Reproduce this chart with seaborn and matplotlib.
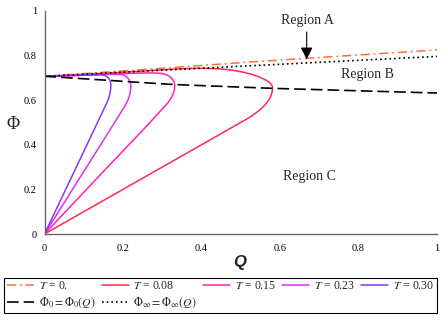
import numpy as np
import pandas as pd
import matplotlib
matplotlib.use("Agg")
import matplotlib.pyplot as plt
import seaborn as sns

sns.set_theme(style="white")
plt.rcParams['font.family'] = ['Liberation Serif', 'DejaVu Serif']
plt.rcParams['mathtext.fontset'] = 'stix'

# ---- data ----
q_t0 = [0.0, 0.25, 0.5, 0.75, 1.0]
phi_t0 = [0.707, 0.737, 0.768, 0.797, 0.825]

q_t08 = [0.0, 0.25, 0.50, 0.5198, 0.5368, 0.5511, 0.5626, 0.5713, 0.5772, 0.5804, 0.581,
         0.580, 0.575, 0.567, 0.557, 0.544, 0.528, 0.51, 0.49, 0.47, 0.447, 0.42,
         0.40, 0.37, 0.33, 0.29, 0.25, 0.20, 0.15, 0.10, 0.05, 0.0]
phi_t08 = [0.0, 0.25, 0.50, 0.52, 0.54, 0.56, 0.58, 0.60, 0.62, 0.64, 0.653,
           0.665, 0.676, 0.687, 0.696, 0.706, 0.716, 0.724, 0.731, 0.736, 0.740, 0.742,
           0.743, 0.742, 0.739, 0.735, 0.730, 0.725, 0.720, 0.716, 0.711, 0.707]

q_t15 = [0.0, 0.15, 0.254, 0.305, 0.3152, 0.3230, 0.3283, 0.3311, 0.332,
         0.3306, 0.3264, 0.3197, 0.311, 0.301, 0.29, 0.27, 0.25, 0.20, 0.15, 0.10,
         0.05, 0.0]
phi_t15 = [0.0, 0.28, 0.472, 0.570, 0.590, 0.610, 0.630, 0.648, 0.665,
           0.6795, 0.693, 0.7046, 0.7135, 0.719, 0.721, 0.722, 0.722, 0.719, 0.716, 0.713,
           0.710, 0.707]

q_t23 = [0.0, 0.10, 0.152, 0.1964, 0.2055, 0.2125, 0.2171, 0.2193, 0.220,
         0.219, 0.216, 0.2112, 0.205, 0.1978, 0.19, 0.15, 0.10, 0.05, 0.0]
phi_t23 = [0.0, 0.28, 0.425, 0.550, 0.575, 0.600, 0.625, 0.645, 0.665,
           0.678, 0.6905, 0.701, 0.709, 0.714, 0.716, 0.715, 0.712, 0.709, 0.707]

q_t30 = [0.0, 0.10, 0.154, 0.1595, 0.1638, 0.1667, 0.1685, 0.169,
         0.1682, 0.1658, 0.162, 0.157, 0.1512, 0.145, 0.10, 0.05, 0.0]
phi_t30 = [0.0, 0.37, 0.570, 0.590, 0.610, 0.630, 0.650, 0.668,
           0.6814, 0.692, 0.7011, 0.708, 0.7125, 0.714, 0.712, 0.709, 0.707]

q_phi0 = [0.0, 0.17, 0.22, 0.33, 0.58, 0.8, 1.0]
phi0 = [0.707, 0.688, 0.682, 0.670, 0.653, 0.642, 0.632]

q_phiinf = [0.0, 0.25, 0.5, 0.75, 1.0]
phiinf = [0.707, 0.730, 0.752, 0.774, 0.796]

t_labels = [r'$T$ = 0.', r'$T$ = 0.08', r'$T$ = 0.15', r'$T$ = 0.23', r'$T$ = 0.30']
ref_labels = [r'$\Phi_0=\Phi_0(Q)$', r'$\Phi_\infty=\Phi_\infty(Q)$']
x_ticks = [0, 0.2, 0.4, 0.6, 0.8, 1]
x_tick_labels = ['0', '0.2', '0.4', '0.6', '0.8', '1']

t_colors = ['#FF6F2E', '#FF2A55', '#FF24A8', '#E22CF2', '#8536FF']

fig = plt.figure(figsize=(4.45, 3.21), dpi=100)
ax = fig.add_axes([0.1, 0.271, 0.882, 0.695])

curves = [(q_t0, phi_t0), (q_t08, phi_t08), (q_t15, phi_t15),
          (q_t23, phi_t23), (q_t30, phi_t30)]
handles = []
for (qq, pp), col, lab in zip(curves, t_colors, t_labels):
    df = pd.DataFrame({'Q': qq, 'Phi': pp})
    sns.lineplot(data=df, x='Q', y='Phi', sort=False, estimator=None, ax=ax,
                 color=col, lw=1.1, label=lab)
    line = ax.lines[-1]
    line.set_solid_joinstyle('round')
    handles.append(line)
handles[0].set_dashes([6, 2.5, 1.2, 2.5])

df0 = pd.DataFrame({'Q': q_phi0, 'Phi': phi0})
sns.lineplot(data=df0, x='Q', y='Phi', sort=False, estimator=None, ax=ax,
             color='black', lw=1.2, label=ref_labels[0])
h0 = ax.lines[-1]
h0.set_dashes([7, 3])
dfi = pd.DataFrame({'Q': q_phiinf, 'Phi': phiinf})
sns.lineplot(data=dfi, x='Q', y='Phi', sort=False, estimator=None, ax=ax,
             color='black', lw=1.2, label=ref_labels[1])
hi = ax.lines[-1]
hi.set_dashes([1.0, 1.8])

if ax.legend_ is not None:
    ax.legend_.remove()

ax.set_xlim(0, 1)
ax.set_ylim(0, 1)
ax.set_xticks(x_ticks)
ax.set_xticklabels(x_tick_labels)
ax.set_yticks(x_ticks)
ax.set_yticklabels(x_tick_labels)
ax.set_xticks(np.arange(0.1, 1.0, 0.2), minor=True)
ax.set_yticks(np.arange(0.1, 1.0, 0.2), minor=True)
ax.tick_params(which='both', direction='out', length=2.5, width=0.6, color='#bbbbbb',
               labelsize=7.5, labelcolor='black')
ax.tick_params(axis='x', which='both', pad=5)
ax.tick_params(axis='y', which='both', pad=3)
for s in ['top', 'right']:
    ax.spines[s].set_visible(False)
for s in ['left', 'bottom']:
    ax.spines[s].set_color('#666666')
    ax.spines[s].set_linewidth(1.0)

ax.set_ylabel('Φ', rotation=0, fontsize=13, ha='center', va='center')
ax.yaxis.set_label_coords(-0.08, 0.489)
ax.set_xlabel('Q', fontsize=12, family=['Liberation Sans', 'DejaVu Sans'],
              fontweight='bold', fontstyle='italic', ha='center', va='center')
ax.xaxis.set_label_coords(0.498, -0.126)

ax.text(0.669, 0.955, 'Region A', fontsize=10, ha='center', va='center')
ax.text(0.822, 0.713, 'Region B', fontsize=10, ha='center', va='center')
ax.text(0.676, 0.257, 'Region C', fontsize=10, ha='center', va='center')
ax.annotate('', xy=(0.668, 0.783), xytext=(0.668, 0.905),
            arrowprops=dict(arrowstyle='-|>,head_length=0.6,head_width=0.3',
                            color='black', lw=0.8, shrinkA=0, shrinkB=0))

order = [handles[0], h0, handles[1], hi, handles[2], handles[3], handles[4]]
labels = [t_labels[0], ref_labels[0], t_labels[1], ref_labels[1],
          t_labels[2], t_labels[3], t_labels[4]]
leg = fig.legend(order, labels, ncol=5, loc='lower left',
                 bbox_to_anchor=(4 / 445, 1 - 313 / 321, 433 / 445, 39 / 321),
                 mode='expand', fontsize=8.5, handlelength=2.3, handletextpad=0.4,
                 labelspacing=0.25, borderaxespad=0, borderpad=0.25,
                 fancybox=False, framealpha=1, edgecolor='black', columnspacing=0.4)
leg.get_frame().set_linewidth(0.8)

fig.savefig('out.png', dpi=100)
